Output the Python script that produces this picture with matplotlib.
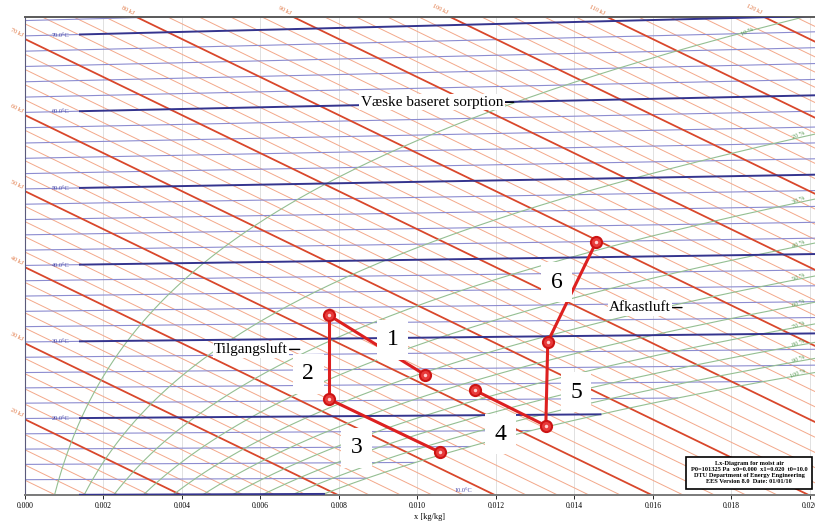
import numpy as np
import matplotlib.pyplot as plt

# air treatment states: humidity ratio [kg/kg] and temperature [C]
x_pts = [0.00775, 0.00775, 0.0102, 0.01057, 0.01146, 0.01327, 0.01332, 0.01455]
t_pts = [33.0, 22.2, 25.2, 15.3, 23.2, 18.6, 29.3, 41.9]
steps = ["1", "2", "3", "4", "5", "6"]
step_from = [2, 0, 1, 4, 5, 6]
step_to = [0, 1, 3, 5, 6, 7]

t_lines = list(range(10, 76, 2))
h_lines = list(range(0, 182, 2))
rh_levels = [10, 20, 30, 40, 50, 60, 70, 80, 90, 100]
xticks = [0.000, 0.002, 0.004, 0.006, 0.008, 0.010, 0.012, 0.014, 0.016, 0.018, 0.020]

P = 101.325
XMAX = 0.0206
YMIN, YMAX = 10.06, 72.9


def psat(t):
    return 0.61094 * np.exp(17.625 * t / (t + 243.04))


def xsat(t, phi=1.0):
    pv = phi * psat(t)
    return 0.622 * pv / (P - pv)


def yval(x, t):
    # Mollier ordinate: h - r0*x
    return 1.006 * t + 1.86 * x * t


plt.rcParams['font.family'] = ['Liberation Serif', 'DejaVu Serif']
fig = plt.figure(figsize=(8.15, 5.22), dpi=100)
ax = fig.add_axes([25 / 815, 27 / 522, 808.5 / 815, 478 / 522])
ax.set_xlim(0, XMAX)
ax.set_ylim(YMIN, YMAX)

for xt in xticks[1:]:
    ax.axvline(xt, color='#dcdcdc', lw=0.6, zorder=0)

# enthalpy lines
xx = np.array([0, XMAX])
for h in h_lines:
    if h % 10 == 0:
        ax.plot(xx, h - 2501 * xx, color='#d9472b', lw=1.3, zorder=2)
    else:
        ax.plot(xx, h - 2501 * xx, color='#f3a88a', lw=0.7, zorder=1)

# isotherms up to saturation
for t in t_lines:
    x_end = min(xsat(t), XMAX)
    if t % 10 == 0:
        xs = np.array([0.0014, x_end])
        ax.plot(xs, yval(xs, t), color='#34348e', lw=1.4, zorder=3)
        if t > 10:
            ax.text(0.00068, yval(0.0007, t), f"{t:.1f}°C", color='#4646a8', fontsize=4.5,
                    va='center', ha='left', zorder=4)
        xs0 = np.array([0, 0.0014])
        ax.plot(xs0, yval(xs0, t), color='#8c8cd0', lw=0.8, zorder=1)
    else:
        xs = np.array([0, x_end])
        ax.plot(xs, yval(xs, t), color='#8c8cd0', lw=0.8, zorder=1)
ax.text(0.01095, 10.3, "10.0°C", color='#4646a8', fontsize=4.5, ha='left', va='bottom')

# relative humidity curves
tt = np.linspace(10, 80, 400)
for rh in rh_levels:
    xr = xsat(tt, rh / 100)
    ax.plot(xr, yval(xr, tt), color='#94bf92', lw=0.8, zorder=2)
    if rh == 10:
        tl = np.interp(0.0185, xr, tt)
        ax.text(0.0184, yval(0.0185, tl) - 0.2, "10 %", color='#5c9c58', fontsize=4.5,
                rotation=25, ha='center', va='center')
    else:
        tl = np.interp(0.0197, xr, tt)
        ax.text(0.0197, yval(0.0197, tl) + 0.3, f"{rh} %", color='#5c9c58', fontsize=4.5,
                rotation=22, ha='center', va='center')

# enthalpy labels on left and top edges
for h in range(20, 130, 10):
    if h <= 70:
        ax.annotate(f"{h} kJ", (0, h), xytext=(-1, 1), textcoords='offset points',
                    fontsize=4.5, color='#e0743f', rotation=-26, ha='right', va='bottom',
                    annotation_clip=False)
    else:
        xt = (h - YMAX) / 2501
        ax.annotate(f"{h} kJ", (xt, YMAX), xytext=(-1, 1), textcoords='offset points',
                    fontsize=4.5, color='#e0743f', rotation=-26, ha='right', va='bottom',
                    annotation_clip=False)

# process lines
offsets = [(11, 4), (-15, -12), (-20, -16), (-7, -19), (21, -6), (-11, 7)]
ys = [yval(x, t) for x, t in zip(x_pts, t_pts)]
for s, i, j, off in zip(steps, step_from, step_to, offsets):
    ax.plot([x_pts[i], x_pts[j]], [ys[i], ys[j]], color='#dd2020', lw=2.2, zorder=6)
    xm = (x_pts[i] + x_pts[j]) / 2
    ym = (ys[i] + ys[j]) / 2
    ax.annotate(s, (xm, ym), xytext=off, textcoords='offset points', fontsize=17,
                ha='center', va='center', zorder=7,
                bbox=dict(boxstyle='square,pad=0.4', fc='white', ec='none'))
ax.plot(x_pts, ys, 'o', ms=8, mfc='#e83a3a', mec='#cc1414', mew=1.5, ls='none', zorder=8)
ax.plot(x_pts, ys, 'o', ms=2.5, mfc='#ffd0d0', mec='none', ls='none', zorder=9)

# text annotations
ann = dict(arrowstyle='-', color='black', lw=1.0, shrinkA=0, shrinkB=0)
box = dict(boxstyle='square,pad=0.1', fc='white', ec='none')
ax.annotate("Væske baseret sorption", (0.01245, 61.7), xytext=(0.01037, 61.7),
            fontsize=11, ha='center', va='center', arrowprops=ann, bbox=box, zorder=7)
ax.annotate("Tilgangsluft", (0.0070, 29.2), xytext=(0.00576, 29.2),
            fontsize=11, ha='center', va='center', arrowprops=ann, bbox=box, zorder=7)
ax.annotate("Afkastluft", (0.01674, 34.7), xytext=(0.01567, 34.7),
            fontsize=11, ha='center', va='center', arrowprops=ann, bbox=box, zorder=7)

ax.text(0.01845, 13.0,
        "Lx-Diagram for moist air\nP0=101325 Pa  x0=0.000  x1=0.020  t0=10.0\n"
        "DTU Department of Energy Engineering\nEES Version 8.0  Date: 01/01/10",
        fontsize=4.6, fontweight='bold', ha='center', va='center', linespacing=1.25, zorder=9,
        bbox=dict(boxstyle='square,pad=0.7', fc='white', ec='black', lw=1.2))

ax.set_xticks(xticks)
ax.set_xticklabels([f"{v:.3f}" for v in xticks], fontsize=5.5)
ax.set_yticks([])
ax.tick_params(axis='x', length=3, width=0.6, pad=2)
ax.set_xlabel("x [kg/kg]", fontsize=6, labelpad=2)
ax.spines['left'].set_color('#5a5a7a')
ax.spines['bottom'].set_color('#7a7a7a')
ax.spines['top'].set_color('#5a5a5a')
ax.spines['bottom'].set_linewidth(1.4)
ax.spines['top'].set_linewidth(1.4)

fig.savefig("out.png", dpi=100)
